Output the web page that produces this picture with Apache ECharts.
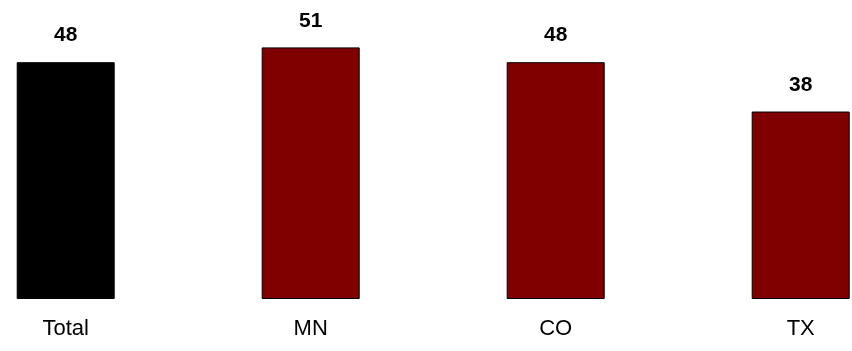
<!DOCTYPE html>
<html><head><meta charset="utf-8">
<script src="https://cdn.jsdelivr.net/npm/echarts@6/dist/echarts.min.js"></script>
<style>html,body{margin:0;padding:0;background:#fff}#c{width:852px;height:351px}</style>
</head><body><div id="c"></div>
<script>
const categories = ['Total', 'MN', 'CO', 'TX'];
const values = [48, 51, 48, 38];
const barColors = ['#000000', '#800000', '#800000', '#800000'];

const chart = echarts.init(document.getElementById('c'), null, {renderer: 'canvas'});
chart.setOption({
  animation: false,
  backgroundColor: '#ffffff',
  grid: {left: 65.7, right: 51.3, top: 3, bottom: 52, containLabel: false},
  xAxis: {
    type: 'category',
    data: categories,
    boundaryGap: false,
    axisLine: {show: false},
    axisTick: {show: false},
    splitLine: {show: false},
    axisLabel: {color: '#000', fontFamily: 'Liberation Sans, Arial', fontSize: 22, margin: 19, interval: 0}
  },
  yAxis: {type: 'value', min: 0, max: 60, show: false, splitLine: {show: false}},
  series: [{
    type: 'bar',
    clip: false,
    barWidth: 98,
    data: values.map((v, i) => ({value: v, itemStyle: {color: barColors[i]}})),
    itemStyle: {borderColor: '#000', borderWidth: 1},
    label: {show: true, position: 'top', distance: 16, color: '#000', fontFamily: 'Liberation Sans, Arial', fontWeight: 'bold', fontSize: 21}
  }]
});
</script></body></html>
